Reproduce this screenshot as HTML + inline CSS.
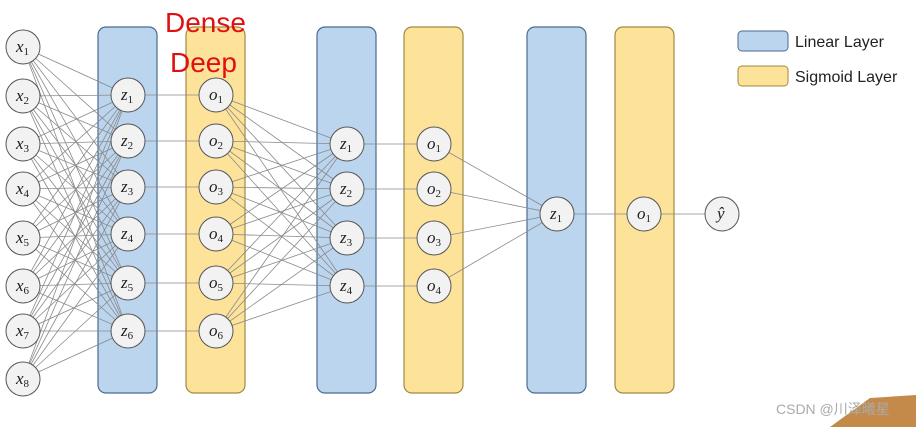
<!DOCTYPE html>
<html><head><meta charset="utf-8"><style>
body{margin:0;background:#fff;width:916px;height:427px;overflow:hidden}
svg{display:block}
text{font-family:"Liberation Serif",serif;font-style:italic}
</style></head><body>
<svg id="s" width="916" height="427" xmlns="http://www.w3.org/2000/svg">
<g id="bars">
<rect x="98" y="27" width="59" height="366" rx="8" fill="#bcd5ee" stroke="#4a6a90" stroke-width="1.2"/>
<rect x="186" y="27" width="59" height="366" rx="8" fill="#fde29a" stroke="#a08a40" stroke-width="1.2"/>
<rect x="317" y="27" width="59" height="366" rx="8" fill="#bcd5ee" stroke="#4a6a90" stroke-width="1.2"/>
<rect x="404" y="27" width="59" height="366" rx="8" fill="#fde29a" stroke="#a08a40" stroke-width="1.2"/>
<rect x="527" y="27" width="59" height="366" rx="8" fill="#bcd5ee" stroke="#4a6a90" stroke-width="1.2"/>
<rect x="615" y="27" width="59" height="366" rx="8" fill="#fde29a" stroke="#a08a40" stroke-width="1.2"/>
</g>
<g id="lines" stroke="#8a8a8a" stroke-width="0.8"></g>
<g id="nodes"></g>
<rect x="738" y="31" width="50" height="20" rx="4" fill="#bcd5ee" stroke="#4a6a90"/>
<text x="795" y="47" font-size="16" style="font-family:'Liberation Sans',sans-serif;font-style:normal" fill="#222">Linear Layer</text>
<rect x="738" y="66" width="50" height="20" rx="4" fill="#fde29a" stroke="#a08a40"/>
<text x="795" y="82" font-size="16" style="font-family:'Liberation Sans',sans-serif;font-style:normal" fill="#222">Sigmoid Layer</text>
<text x="165" y="32" font-size="28" fill="#e01010" style="font-family:'Liberation Sans',sans-serif;font-style:normal">Dense</text>
<text x="170" y="72" font-size="28" fill="#e01010" style="font-family:'Liberation Sans',sans-serif;font-style:normal">Deep</text>
<polygon points="830,427 870,398 916,395 916,427" fill="#c48a4a"/>
<text x="776" y="414" font-size="14" fill="#aaa" style="font-family:'Liberation Sans','Noto Sans CJK SC',sans-serif;font-style:normal">CSDN @川泽曦星</text>
</svg>
<script>
var NS="http://www.w3.org/2000/svg";
var L=document.getElementById('lines'),N=document.getElementById('nodes');
var X=[47,96,144,189,238,286,331,379].map(y=>[23,y]);
var Z1=[95,141,187,234,283,331].map(y=>[128,y]);
var O1=Z1.map(p=>[216,p[1]]);
var Z2=[144,189,238,286].map(y=>[347,y]);
var O2=Z2.map(p=>[434,p[1]]);
var Z3=[[557,214]],O3=[[644,214]],Y=[[722,214]];
function ln(a,b){var l=document.createElementNS(NS,'line');l.setAttribute('x1',a[0]);l.setAttribute('y1',a[1]);l.setAttribute('x2',b[0]);l.setAttribute('y2',b[1]);L.appendChild(l);}
function full(A,B){A.forEach(a=>B.forEach(b=>ln(a,b)));}
function pair(A,B){A.forEach((a,i)=>ln(a,B[i]));}
full(X,Z1);pair(Z1,O1);full(O1,Z2);pair(Z2,O2);full(O2,Z3);pair(Z3,O3);pair(O3,Y);
function nd(P,l){P.forEach((p,i)=>{var c=document.createElementNS(NS,'circle');c.setAttribute('cx',p[0]);c.setAttribute('cy',p[1]);c.setAttribute('r',17);c.setAttribute('fill','#f2f2f2');c.setAttribute('stroke','#555');c.setAttribute('stroke-width','1');N.appendChild(c);
var t=document.createElementNS(NS,'text');t.setAttribute('x',p[0]-7);t.setAttribute('y',p[1]+5);t.setAttribute('font-size','17');t.setAttribute('fill','#222');
if(l=='ŷ'){t.textContent='ŷ';t.setAttribute('x',p[0]-5);}else{t.textContent=l;var s=document.createElementNS(NS,'tspan');s.setAttribute('font-size','11');s.setAttribute('dy','3');s.style.fontStyle='normal';s.textContent=i+1;t.appendChild(s);}
N.appendChild(t);});}
nd(X,'x');nd(Z1,'z');nd(O1,'o');nd(Z2,'z');nd(O2,'o');nd(Z3,'z');nd(O3,'o');nd(Y,'ŷ');
</script>
</body></html>
